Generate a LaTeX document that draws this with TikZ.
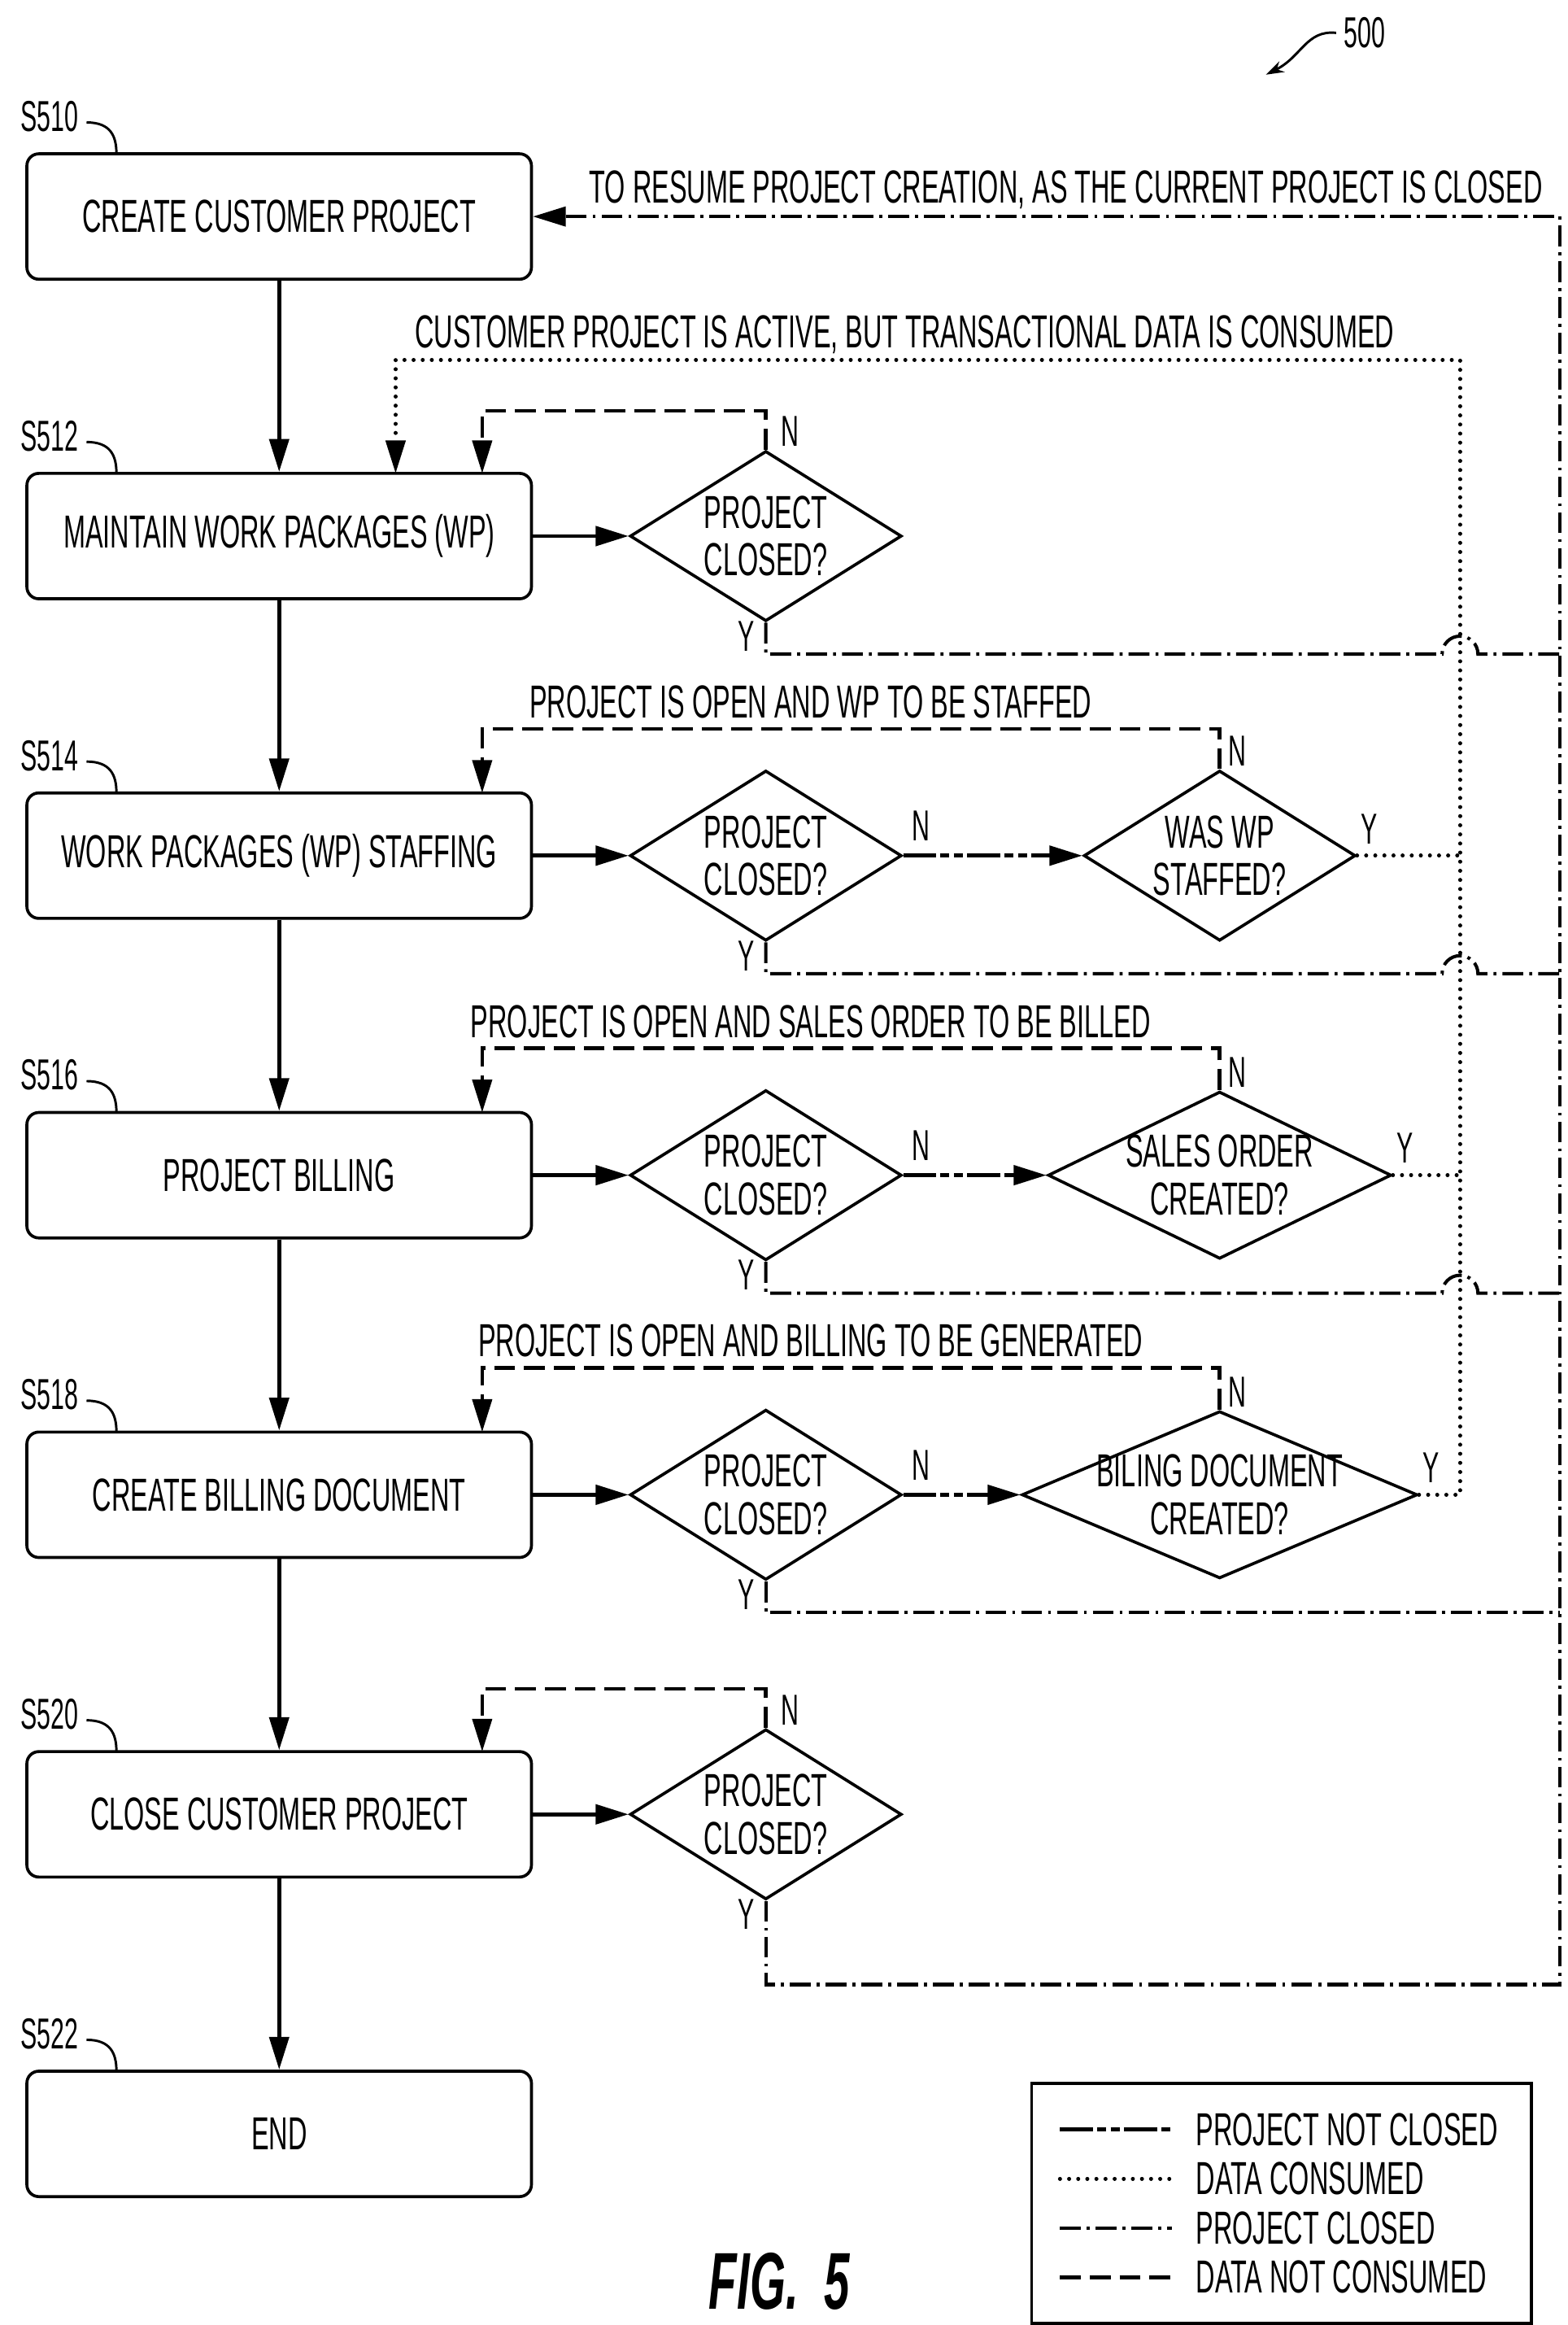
\documentclass[tikz,border=0pt]{standalone}
\usepackage{fontspec}
\setmainfont[FakeStretch=0.57]{Liberation Sans}
\usetikzlibrary{arrows.meta,shapes.geometric}
\begin{document}
\begin{tikzpicture}[x=1pt,y=-1pt,
  box/.style={draw,line width=2pt,rounded corners=8pt,minimum width=338pt,minimum height=84pt,font=\fontsize{31}{32}\selectfont},
  dia/.style={draw,line width=2pt,diamond,aspect=1.6,inner sep=0pt,font=\fontsize{31}{32}\selectfont,align=center},
  txt/.style={font=\fontsize{31}{32}\selectfont,inner sep=1pt},
  main/.style={line width=2.6pt,-{Triangle[length=22pt,width=13pt]}},
  tip/.style={-{Triangle[length=22pt,width=13pt]}},
  notclosed/.style={line width=2.6pt,dash pattern=on 22pt off 3pt on 6pt off 3pt on 6pt off 3pt},
  consumed/.style={line width=2.6pt,line cap=round,dash pattern=on 0.1pt off 6pt},
  closed/.style={line width=2.2pt,dash pattern=on 14pt off 4pt on 2pt off 4pt},
  notconsumed/.style={line width=2.4pt,dash pattern=on 14pt off 6pt},
  lbl/.style={font=\fontsize{29}{30}\selectfont,inner sep=1pt}]
\useasboundingbox (0,0) rectangle (1050,1557);
\fill[white] (0,0) rectangle (1050,1557);
% boxes
\node[box] (b510) at (187,145) {CREATE CUSTOMER PROJECT};
\node[box] (b512) at (187,359) {MAINTAIN WORK PACKAGES (WP)};
\node[box] (b514) at (187,573) {WORK PACKAGES (WP) STAFFING};
\node[box] (b516) at (187,787) {PROJECT BILLING};
\node[box] (b518) at (187,1001) {CREATE BILLING DOCUMENT};
\node[box] (b520) at (187,1215) {CLOSE CUSTOMER PROJECT};
\node[box] (b522) at (187,1429) {END};
% step labels
\foreach \n/\y in {510/103,512/317,514/531,516/745,518/959,520/1173,522/1387}{
  \node[lbl] (l\n) at (33,\y-25) {S\n};
  \draw[line width=1.6pt] (58,\y-21) .. controls (74,\y-21) and (78,\y-12) .. (78,\y);
}
% diamonds
\foreach \n/\y in {512/359,514/573,516/787,518/1001,520/1215}{
  \node[dia,minimum width=182pt,minimum height=114pt] (c\n) at (513,\y) {PROJECT\\CLOSED?};
  \draw[main] (b\n.east) -- (c\n.west);
  \node[lbl] (y\n) at (500,\y+67) {Y};
}
\node[dia,minimum width=182pt,minimum height=114pt] (d514) at (817,573) {WAS WP\\STAFFED?};
\node[dia,aspect=2.05,minimum width=230pt,minimum height=112pt] (d516) at (817,787) {};
\node[txt,align=center] (d516t) at (817,787) {SALES ORDER\\CREATED?};
\node[dia,aspect=2.37,minimum width=265pt,minimum height=112pt] (d518) at (817,1001) {};
\node[txt,align=center] (d518t) at (817,1001) {BILING DOCUMENT\\CREATED?};
% main flow
\foreach \a/\b in {510/512,512/514,514/516,516/518,518/520,520/522}
  \draw[main] (b\a.south) -- (b\b.north);
% N links
\foreach \n in {514,516,518}{
  \draw[notclosed] (c\n.east) -- ([xshift=-22pt]d\n.west);
  \draw[tip,line width=2.6pt] ([xshift=-24pt]d\n.west) -- (d\n.west);
  \node[lbl] (nr\n) at ([xshift=12pt,yshift=20pt]c\n.east) {N};
  \node[lbl] (nt\n) at ([xshift=12pt,yshift=12pt]d\n.north) {N};
  \node[lbl] (yr\n) at ([xshift=8pt,yshift=18pt]d\n.east) {Y};
}
\node[lbl] (nt512) at ([xshift=16pt,yshift=12pt]c512.north) {N};
\node[lbl] (nt520) at ([xshift=16pt,yshift=12pt]c520.north) {N};
% data not consumed loops
\draw[notconsumed,tip] (c512.north) -- (513,275) -- (323,275) -- (323,317);
\draw[notconsumed,tip] (d514.north) -- (817,488) -- (323,488) -- (323,531);
\draw[notconsumed,tip] (d516.north) -- (817,702) -- (323,702) -- (323,745);
\draw[notconsumed,tip] (d518.north) -- (817,916) -- (323,916) -- (323,959);
\draw[notconsumed,tip] (c520.north) -- (513,1131) -- (323,1131) -- (323,1173);
% data consumed
\draw[consumed,tip] (d518.east) -- (978,1001) -- (978,241) -- (265,241) -- (265,317);
\draw[consumed] (d514.east) -- (978,573);
\draw[consumed] (d516.east) -- (978,787);
% project closed
\draw[closed,tip] (c520.south) -- (513,1329) -- (1045,1329) -- (1045,145) -- (b510.east);
\foreach \n/\y in {512/438,514/652,516/866}
  \draw[closed] (c\n.south) -- (513,\y) -- (966,\y) arc (180:360:12) -- (1045,\y);
\draw[closed] (c518.south) -- (513,1080) -- (1045,1080);
% loop texts
\node[txt] (t1) at (714,127) {TO RESUME PROJECT CREATION, AS THE CURRENT PROJECT IS CLOSED};
\node[txt] (t2) at (606,224) {CUSTOMER PROJECT IS ACTIVE, BUT TRANSACTIONAL DATA IS CONSUMED};
\node[txt] (t3) at (543,470) {PROJECT IS OPEN AND WP TO BE STAFFED};
\node[txt] (t4) at (543,684) {PROJECT IS OPEN AND SALES ORDER TO BE BILLED};
\node[txt] (t5) at (543,898) {PROJECT IS OPEN AND BILLING TO BE GENERATED};
% figure number
\node[lbl] (n500) at (914,22) {500};
\draw[line width=1.6pt,-{Stealth[length=12pt,width=8pt]}] (895,22) .. controls (875,20) and (872,38) .. (848,50);
\node[font=\fontsize{54}{56}\selectfont\bfseries\itshape] (fig) at (522,1528) {FIG.\ \ 5};
% legend
\node[draw,line width=2pt,minimum width=335pt,minimum height=161pt] (leg) at (858.5,1475.5) {};
\draw[notclosed] (710,1426) -- (785,1426);
\draw[consumed] (710,1459) -- (785,1459);
\draw[closed] (710,1492) -- (785,1492);
\draw[notconsumed] (710,1525) -- (785,1525);
\node[txt,anchor=west] (g1) at (800,1426) {PROJECT NOT CLOSED};
\node[txt,anchor=west] (g2) at (800,1459) {DATA CONSUMED};
\node[txt,anchor=west] (g3) at (800,1492) {PROJECT CLOSED};
\node[txt,anchor=west] (g4) at (800,1525) {DATA NOT CONSUMED};
\end{tikzpicture}
\end{document}
